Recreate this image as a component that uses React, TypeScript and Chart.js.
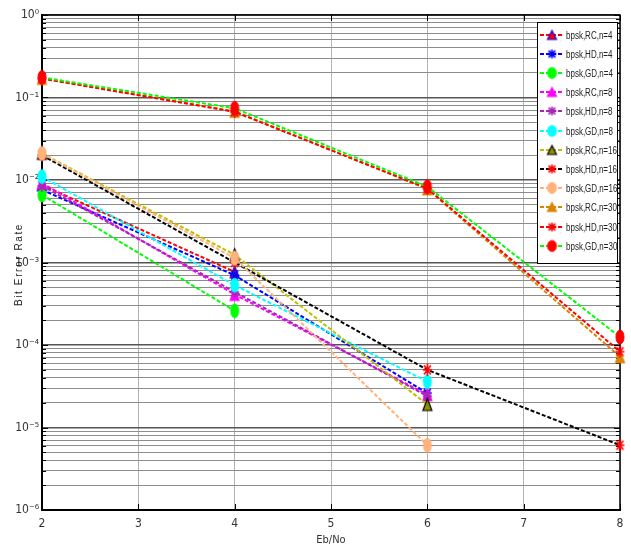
import React, { useEffect, useRef } from 'react';
import { Chart, registerables } from 'chart.js';

Chart.register(...registerables);

// Eb/No points (dB)
const EBNO = [2, 4, 6, 8];

// Bit error rate per scheme, aligned with EBNO (null = not simulated)
const RC_N4 = [0.0087, 7.7e-4, null, null];
const HD_N4 = [0.0076, 7.0e-4, 2.6e-5, null];
const GD_N4 = [0.0066, 2.6e-4, null, null];
const RC_N8 = [0.0092, 4.1e-4, 2.5e-5, null];
const HD_N8 = [0.0085, 4.4e-4, 2.4e-5, null];
const GD_N8 = [0.011, 5.3e-4, 3.6e-5, null];
const RC_N16 = [0.021, 1.24e-3, 1.9e-5, null];
const HD_N16 = [0.02, 1.0e-3, 5.0e-5, 6.1e-6];
const GD_N16 = [0.021, 1.13e-3, 6.1e-6, null];
const RC_N30 = [0.17, 0.068, 0.0078, 7.2e-5];
const HD_N30 = [0.17, 0.067, 0.0079, 8.3e-5];
const GD_N30 = [0.175, 0.074, 0.0083, 1.25e-4];

const SERIES_LABELS = [
  'bpsk,RC,n=4', 'bpsk,HD,n=4', 'bpsk,GD,n=4',
  'bpsk,RC,n=8', 'bpsk,HD,n=8', 'bpsk,GD,n=8',
  'bpsk,RC,n=16', 'bpsk,HD,n=16', 'bpsk,GD,n=16',
  'bpsk,RC,n=30', 'bpsk,HD,n=30', 'bpsk,GD,n=30',
];
const SERIES_VALUES = [
  RC_N4, HD_N4, GD_N4, RC_N8, HD_N8, GD_N8,
  RC_N16, HD_N16, GD_N16, RC_N30, HD_N30, GD_N30,
];

// Y axis range and decade tick labels
const Y_MIN = 1e-6;
const Y_MAX = 1;
const DECADE_LABELS: Record<string, string> = {
  '1': '10⁰', '0.1': '10⁻¹', '0.01': '10⁻²', '0.001': '10⁻³',
  '0.0001': '10⁻⁴', '0.00001': '10⁻⁵', '0.000001': '10⁻⁶',
};
const Y_TITLE = 'Bit Error Rate';
const X_TITLE = 'Eb/No';

type Shape = 'triangle' | 'star' | 'circle';
interface Style { line: string; shape: Shape; fill: string; edge: string }

const STYLES: Style[] = [
  { line: '#ff0000', shape: 'triangle', fill: '#ff0000', edge: '#0000ff' },
  { line: '#0000ff', shape: 'star', fill: '#0000ff', edge: '#0000ff' },
  { line: '#00ff00', shape: 'circle', fill: '#00ff00', edge: '#00ff00' },
  { line: '#ff00ff', shape: 'triangle', fill: '#ff00ff', edge: '#ff00ff' },
  { line: '#a626b5', shape: 'star', fill: '#a626b5', edge: '#a626b5' },
  { line: '#00ffff', shape: 'circle', fill: '#00ffff', edge: '#00ffff' },
  { line: '#bfbf00', shape: 'triangle', fill: '#8f8f00', edge: '#000000' },
  { line: '#000000', shape: 'star', fill: '#ff0000', edge: '#ff0000' },
  { line: '#ffb27a', shape: 'circle', fill: '#ffb27a', edge: '#ffb27a' },
  { line: '#d98500', shape: 'triangle', fill: '#d98500', edge: '#d98500' },
  { line: '#ff0000', shape: 'star', fill: '#ff0000', edge: '#ff0000' },
  { line: '#00ff00', shape: 'circle', fill: '#ff0000', edge: '#ff0000' },
];

const FONT = "'Liberation Sans Narrow', 'DejaVu Sans Condensed', 'Liberation Sans', Arial, sans-serif";

function makeMarker(s: Style, w: number, h: number): HTMLCanvasElement {
  const pad = 2;
  const c = document.createElement('canvas');
  c.width = w + pad * 2;
  c.height = h + pad * 2;
  const g = c.getContext('2d')!;
  const cx = c.width / 2;
  const cy = c.height / 2;
  g.lineWidth = 1;
  if (s.shape === 'circle') {
    g.beginPath();
    g.ellipse(cx, cy, w / 2, h / 2, 0, 0, Math.PI * 2);
    g.fillStyle = s.fill;
    g.fill();
    g.strokeStyle = s.edge;
    g.stroke();
  } else if (s.shape === 'triangle') {
    g.beginPath();
    g.moveTo(cx, pad);
    g.lineTo(cx + w / 2, pad + h);
    g.lineTo(cx - w / 2, pad + h);
    g.closePath();
    g.fillStyle = s.fill;
    g.fill();
    g.strokeStyle = s.edge;
    g.lineWidth = 1.2;
    g.stroke();
  } else {
    g.strokeStyle = s.fill;
    g.lineWidth = 1.6;
    const rx = w / 2;
    const ry = h / 2;
    g.beginPath();
    g.moveTo(cx, cy - ry); g.lineTo(cx, cy + ry);
    g.moveTo(cx - rx, cy); g.lineTo(cx + rx, cy);
    g.moveTo(cx - rx * 0.75, cy - ry * 0.75); g.lineTo(cx + rx * 0.75, cy + ry * 0.75);
    g.moveTo(cx + rx * 0.75, cy - ry * 0.75); g.lineTo(cx - rx * 0.75, cy + ry * 0.75);
    g.stroke();
  }
  return c;
}

function logTicks(): number[] {
  const out: number[] = [];
  for (let e = -6; e <= 0; e++) {
    for (let m = 1; m <= 9; m++) {
      const v = parseFloat((m * Math.pow(10, e)).toPrecision(3));
      if (v >= Y_MIN && v <= Y_MAX) out.push(v);
    }
  }
  return out;
}

export default function App() {
  const ref = useRef<HTMLCanvasElement | null>(null);

  useEffect(() => {
    document.body.style.margin = '0';
    const canvas = ref.current;
    if (!canvas) return;

    const plotMarkers = STYLES.map((s) => makeMarker(s, s.shape === 'circle' ? 8 : 9, s.shape === 'circle' ? 14 : 12));
    const legendMarkers = STYLES.map((s) => makeMarker(s, 9, s.shape === 'circle' ? 11 : 9));

    const datasets = SERIES_VALUES.map((vals, i) => ({
      label: SERIES_LABELS[i],
      data: EBNO.map((x, k) => (vals[k] == null ? null : { x, y: vals[k] as number })).filter((p) => p !== null),
      borderColor: STYLES[i].line,
      backgroundColor: STYLES[i].fill,
      borderWidth: 2,
      borderDash: [4, 2],
      pointStyle: plotMarkers[i],
      pointRadius: 6,
      showLine: true,
      fill: false,
      clip: false as any,
      order: SERIES_VALUES.length - i,
    }));

    const frame = {
      id: 'frame',
      beforeDatasetsDraw(chart: any) {
        const { ctx, chartArea: a, scales } = chart;
        ctx.save();
        ctx.strokeStyle = '#000';
        ctx.lineWidth = 1;
        // inward ticks on the y edges
        for (const t of scales.y.ticks) {
          const y = Math.round(scales.y.getPixelForValue(t.value)) + 0.5;
          const len = DECADE_LABELS[String(t.value)] ? 6 : 4;
          ctx.beginPath();
          ctx.moveTo(a.left, y); ctx.lineTo(a.left + len, y);
          ctx.moveTo(a.right, y); ctx.lineTo(a.right - len, y);
          ctx.stroke();
        }
        // inward ticks on the x edges
        for (const t of scales.x.ticks) {
          const x = Math.round(scales.x.getPixelForValue(t.value)) + 0.5;
          ctx.beginPath();
          ctx.moveTo(x, a.bottom); ctx.lineTo(x, a.bottom - 6);
          ctx.moveTo(x, a.top); ctx.lineTo(x, a.top + 6);
          ctx.stroke();
        }
        ctx.lineWidth = 1.5;
        ctx.strokeRect(a.left, a.top, a.right - a.left, a.bottom - a.top);
        ctx.restore();
      },
    };

    const overlay = {
      id: 'overlay',
      afterDraw(chart: any) {
        const { ctx, chartArea: a } = chart;
        ctx.save();
        // y axis title, spaced out
        ctx.translate(19, (a.top + a.bottom) / 2 + 2);
        ctx.rotate(-Math.PI / 2);
        ctx.font = "10px 'Liberation Sans', Arial, sans-serif";
        (ctx as any).letterSpacing = '1.6px';
        ctx.fillStyle = '#222';
        ctx.textAlign = 'center';
        ctx.textBaseline = 'middle';
        ctx.fillText(Y_TITLE, 0, 0);
        ctx.restore();

        // legend box
        const x0 = 537, y0 = 22, w = 80, h = 241;
        ctx.save();
        ctx.fillStyle = '#fff';
        ctx.fillRect(x0, y0, w, h);
        ctx.strokeStyle = '#000';
        ctx.lineWidth = 1;
        ctx.strokeRect(x0 + 0.5, y0 + 0.5, w, h);
        ctx.font = "10px 'Liberation Sans', Arial, sans-serif";
        ctx.textBaseline = 'middle';
        ctx.textAlign = 'left';
        SERIES_LABELS.forEach((label, i) => {
          const y = Math.round(34.5 + i * 19.2);
          ctx.strokeStyle = STYLES[i].line;
          ctx.lineWidth = 2;
          ctx.setLineDash([4, 2]);
          ctx.beginPath();
          ctx.moveTo(x0 + 3, y); ctx.lineTo(x0 + 27, y);
          ctx.stroke();
          ctx.setLineDash([]);
          const m = legendMarkers[i];
          ctx.drawImage(m, x0 + 15 - m.width / 2, y - m.height / 2);
          ctx.fillStyle = '#222';
          ctx.save();
          ctx.translate(x0 + 29, y + 0.5);
          ctx.scale(0.8, 1.1);
          ctx.fillText(label, 0, 0);
          ctx.restore();
        });
        ctx.restore();
      },
    };

    const chart = new Chart(canvas, {
      type: 'scatter',
      data: { datasets: datasets as any },
      plugins: [frame, overlay],
      options: {
        responsive: false,
        animation: false,
        layout: { padding: { top: 15, right: 11, left: 0, bottom: 0 } },
        plugins: {
          legend: { display: false },
          tooltip: { enabled: false },
        },
        scales: {
          x: {
            type: 'linear',
            min: 2,
            max: 8,
            afterFit: (s: any) => { s.height = 37; },
            ticks: { stepSize: 1, padding: 7, color: '#333', font: { family: FONT, size: 12 } },
            grid: { color: '#b4b4b4', lineWidth: 1, drawTicks: false },
            border: { color: '#000', width: 2 },
            title: { display: true, text: X_TITLE, color: '#333', padding: { top: 0, bottom: 0 }, font: { family: FONT, size: 11 } },
          },
          y: {
            type: 'logarithmic',
            min: Y_MIN,
            max: Y_MAX,
            afterFit: (s: any) => { s.width = 42; },
            afterBuildTicks: (s: any) => { s.ticks = logTicks().map((v) => ({ value: v })); },
            ticks: {
              autoSkip: false,
              padding: 3,
              color: '#333',
              font: { family: FONT, size: 12 },
              callback: (v: any) => DECADE_LABELS[String(v)] ?? '',
            },
            grid: {
              drawTicks: false,
              color: (c: any) => (DECADE_LABELS[String(c.tick?.value)] ? '#555' : '#8c8c8c'),
              lineWidth: (c: any) => (DECADE_LABELS[String(c.tick?.value)] ? 1.5 : 1),
            },
            border: { color: '#000', width: 2 },
            title: { display: false },
          },
        },
      },
    });
    return () => chart.destroy();
  }, []);

  return (
    <div style={{ width: 631, height: 547 }}>
      <canvas ref={ref} width={631} height={547} />
    </div>
  );
}
